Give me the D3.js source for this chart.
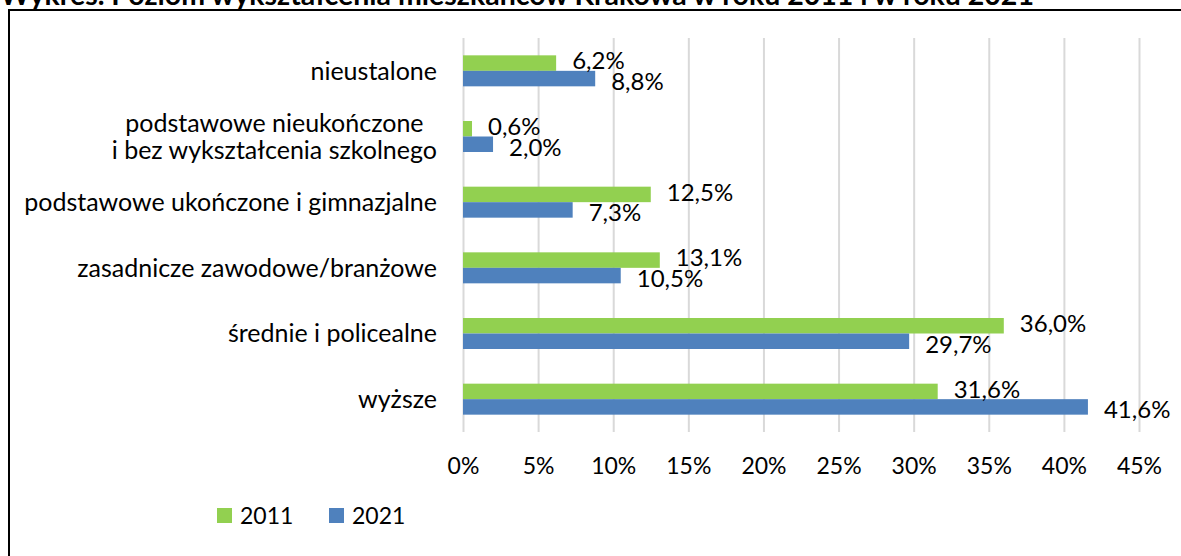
<!DOCTYPE html>
<html>
<head>
<meta charset="utf-8">
<script src="https://d3js.org/d3.v7.min.js"></script>
<style>
  body {
    margin: 0;
    background: #fff;
    font-family: Lato, "Open Sans", sans-serif;
  }
  svg { display: block; }
  .grid line { stroke: #d9d9d9; stroke-width: 2px; }
  .grid .domain { display: none; }
  text { fill: #000; }
</style>
</head>
<body>
<script>
  // values
  var categories = [
    "nieustalone",
    "podstawowe nieukończone\ni bez wykształcenia szkolnego",
    "podstawowe ukończone i gimnazjalne",
    "zasadnicze zawodowe/branżowe",
    "średnie i policealne",
    "wyższe"
  ];
  var years = ["2011", "2021"];
  var values2011 = [6.2, 0.6, 12.5, 13.1, 36.0, 31.6];
  var values2021 = [8.8, 2.0, 7.3, 10.5, 29.7, 41.6];
  var xTicks = [0, 5, 10, 15, 20, 25, 30, 35, 40, 45];
  var colors = {"2011": "#92d050", "2021": "#4f81bd"};
  var title = "Wykres. Poziom wykształcenia mieszkańców Krakowa w roku 2011 i w roku 2021";

  var W = 1181, H = 556;
  var fs = 23;       // ticks, legend
  var fsCat = 25;    // category labels
  var fsVal = 24;    // value labels

  var rows = categories.map((c, i) => ({cat: c, "2011": values2011[i], "2021": values2021[i]}));

  var x = d3.scaleLinear().domain([0, 45]).range([463, 1139]);
  var y = d3.scaleBand().domain(categories).range([38, 432])
      .paddingInner(0.528).paddingOuter(0.264);
  var ySub = d3.scaleBand().domain(years).range([0, y.bandwidth()]);

  var svg = d3.select("body").append("svg")
      .attr("width", W)
      .attr("height", H);

  // title, cut off at the top like in the source image
  svg.append("text")
      .attr("x", 0)
      .attr("y", 5)
      .style("font-weight", "bold")
      .style("font-size", "28.5px")
      .text(title);

  // frame
  svg.append("rect")
      .attr("x", 9)
      .attr("y", 10)
      .attr("width", W + 10)
      .attr("height", H + 10)
      .attr("fill", "none")
      .attr("stroke", "#000")
      .attr("stroke-width", 2);

  var xAxis = d3.axisBottom(x)
      .tickValues(xTicks)
      .tickSize(-(432 - 38))
      .tickFormat(d => d + "%");

  var gx = svg.append("g")
      .attr("class", "grid")
      .attr("transform", "translate(0,432)")
      .call(xAxis);
  gx.selectAll("text")
      .attr("dy", 0)
      .attr("y", 42)
      .style("font-size", fs + "px")
      .style("font-family", "Lato, sans-serif");

  var groups = svg.selectAll(".cat")
      .data(rows)
    .enter()
      .append("g")
      .attr("class", "cat")
      .attr("transform", d => `translate(0,${y(d.cat)})`);

  groups.selectAll("rect")
      .data(d => years.map(k => ({year: k, v: d[k]})))
    .enter()
      .append("rect")
      .attr("x", x(0))
      .attr("y", d => ySub(d.year))
      .attr("width", d => x(d.v) - x(0))
      .attr("height", ySub.bandwidth())
      .attr("fill", d => colors[d.year]);

  groups.selectAll(".lbl")
      .data(d => years.map(k => ({year: k, v: d[k]})))
    .enter()
      .append("text")
      .attr("class", "lbl")
      .attr("x", d => x(d.v) + 16)
      .attr("y", d => ySub(d.year) + ySub.bandwidth() / 2 + (d.year == "2011" ? -2 : 3))
      .attr("dy", "0.35em")
      .style("font-size", fsVal + "px")
      .text(d => d3.format(".1f")(d.v).replace(".", ",") + "%");

  // category labels, multi-line ones centred on their widest line
  groups.each(function(d) {
    var g = d3.select(this);
    var lines = d.cat.split("\n");
    var lh = 27;
    var mid = y.bandwidth() / 2;
    var t = g.append("text")
        .style("font-size", fsCat + "px")
        .attr("text-anchor", lines.length > 1 ? "middle" : "end");
    lines.forEach((l, i) => {
      t.append("tspan")
          .attr("x", 437)
          .attr("y", mid + (i - (lines.length - 1) / 2) * lh)
          .attr("dy", "0.35em")
          .text(l);
    });
    if (lines.length > 1) {
      var w = t.node().getBBox().width;
      t.selectAll("tspan").attr("x", 437 - w / 2);
    }
  });

  // legend
  var legend = svg.append("g")
      .attr("transform", "translate(217,508)");
  var li = legend.selectAll("g")
      .data(years)
    .enter()
      .append("g")
      .attr("transform", (d, i) => `translate(${i * 112},0)`);
  li.append("rect")
      .attr("width", 15)
      .attr("height", 15)
      .attr("fill", d => colors[d]);
  li.append("text")
      .attr("x", 23)
      .attr("y", 8)
      .attr("dy", "0.35em")
      .style("font-size", fs + "px")
      .text(d => d);
</script>
</body>
</html>
